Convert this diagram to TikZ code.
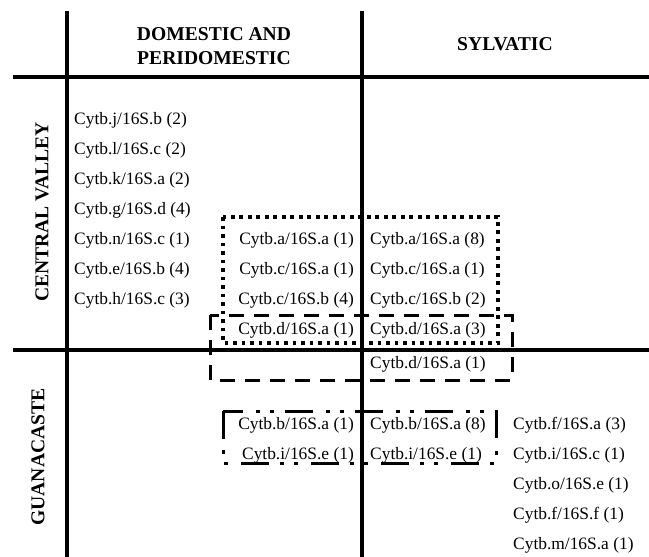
\documentclass[tikz,border=0pt]{standalone}
\usepackage{fontspec}
\setmainfont{Liberation Serif}
\usepackage{tikz}
\usetikzlibrary{
        backgrounds,
        positioning
    }
\tikzset{x=1pt,y=-1pt}
\tikzset{entry/.style={font=\fontsize{17.4}{20}\selectfont,inner sep=0pt}}
\tikzset{head/.style={font=\fontsize{19.6}{24}\selectfont\bfseries,align=center,inner sep=0pt}}
\tikzset{grid/.style={line width=3.8pt}}
\tikzset{dotbox/.style={line width=3.6pt,dash pattern=on 3.6pt off 4.9pt}}
\tikzset{dashbox/.style={line width=3pt,dash pattern=on 15pt off 10pt}}
\tikzset{dotdashbox/.style={line width=3pt,dash pattern=on 28pt off 11pt on 4pt off 10pt on 4pt off 13pt}}

\begin{document}
\begin{tikzpicture}
                \useasboundingbox (0,0) rectangle (649,557);
                \draw[grid] (67,11) -- (67,557);
                \draw[grid] (362,11) -- (362,557);
                \draw[grid] (13,77) -- (649,77);
                \draw[grid] (13,350) -- (649,350);
                \node[head] (dom) at (214,46) {DOMESTIC AND\\PERIDOMESTIC};
                \node[head] (syl) at (505,44) {SYLVATIC};
                \node[head,rotate=90] (cv) at (42,212) {CENTRAL VALLEY};
                \node[head,rotate=90] (gua) at (38,457) {GUANACASTE};
                \node[entry,anchor=base west] (cvj) at (74,124) {Cytb.j/16S.b (2)};
                \node[entry,anchor=base west] (cvl) at (74,154) {Cytb.l/16S.c (2)};
                \node[entry,anchor=base west] (cvk) at (74,184) {Cytb.k/16S.a (2)};
                \node[entry,anchor=base west] (cvg) at (74,214) {Cytb.g/16S.d (4)};
                \node[entry,anchor=base west] (cvn) at (74,244) {Cytb.n/16S.c (1)};
                \node[entry,anchor=base west] (cve) at (74,274) {Cytb.e/16S.b (4)};
                \node[entry,anchor=base west] (cvh) at (74,304) {Cytb.h/16S.c (3)};
                \node[entry,anchor=base east] (cvda) at (354,244) {Cytb.a/16S.a (1)};
                \node[entry,anchor=base east] (cvdc) at (354,274) {Cytb.c/16S.a (1)};
                \node[entry,anchor=base east] (cvdcb) at (354,304) {Cytb.c/16S.b (4)};
                \node[entry,anchor=base east] (cvdd) at (354,334) {Cytb.d/16S.a (1)};
                \node[entry,anchor=base west] (cvsa) at (370,244) {Cytb.a/16S.a (8)};
                \node[entry,anchor=base west] (cvsc) at (370,274) {Cytb.c/16S.a (1)};
                \node[entry,anchor=base west] (cvscb) at (370,304) {Cytb.c/16S.b (2)};
                \node[entry,anchor=base west] (cvsd) at (370,334) {Cytb.d/16S.a (3)};
                \node[entry,anchor=base west] (gsd) at (370,368) {Cytb.d/16S.a (1)};
                \node[entry,anchor=base east] (gdb) at (354,429) {Cytb.b/16S.a (1)};
                \node[entry,anchor=base east] (gdi) at (354,459) {Cytb.i/16S.e (1)};
                \node[entry,anchor=base west] (gsb) at (370,429) {Cytb.b/16S.a (8)};
                \node[entry,anchor=base west] (gsi) at (370,459) {Cytb.i/16S.e (1)};
                \node[entry,anchor=base west] (gf) at (513,429) {Cytb.f/16S.a (3)};
                \node[entry,anchor=base west] (gi) at (513,459) {Cytb.i/16S.c (1)};
                \node[entry,anchor=base west] (go) at (513,489) {Cytb.o/16S.e (1)};
                \node[entry,anchor=base west] (gff) at (513,519) {Cytb.f/16S.f (1)};
                \node[entry,anchor=base west] (gm) at (513,549) {Cytb.m/16S.a (1)};
                \draw[dotbox] (223,217) rectangle (498,343);
                \draw[dashbox] (210,315) rectangle (512,380);
                \draw[dotdashbox] (223,411) rectangle (496,463);
            \end{tikzpicture}
\end{document}
